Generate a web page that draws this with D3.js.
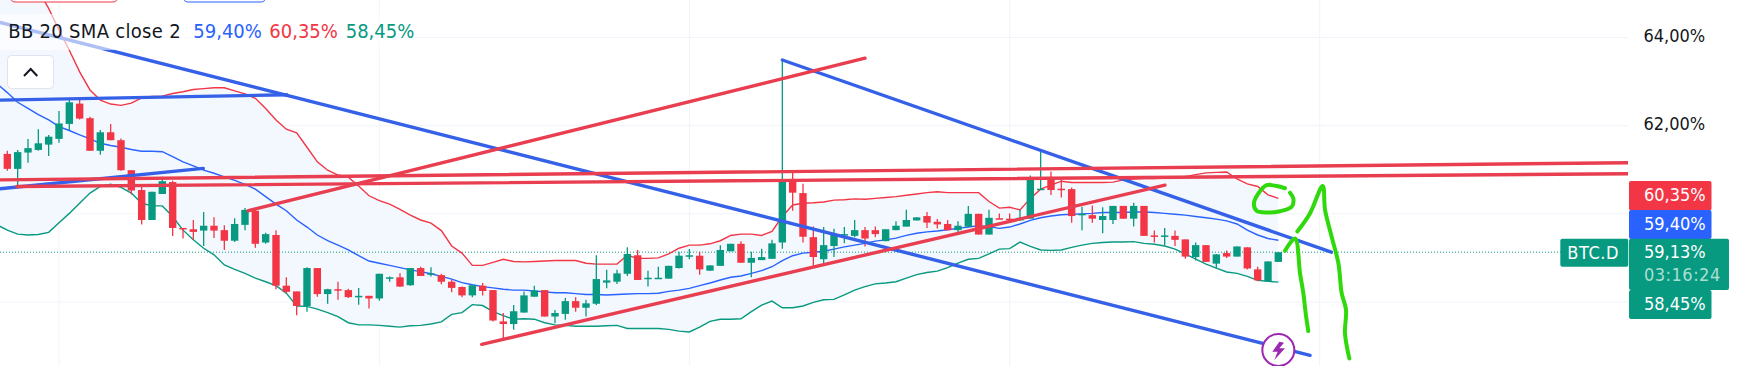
<!DOCTYPE html>
<html>
<head>
<meta charset="utf-8">
<script src="https://cdn.jsdelivr.net/npm/d3@7"></script>
<style>
  html, body { margin: 0; padding: 0; background: #fff; overflow: hidden; }
  text { font-family: "DejaVu Sans Condensed", "DejaVu Sans", sans-serif; font-stretch: condensed; }
</style>
</head>
<body>
<div id="chart-container"></div>
<script>
const candleOpen = [61.36,61.02,61.39,61.45,61.57,61.70,62.04,62.50,62.17,61.43,61.85,61.67,60.99,60.54,59.86,60.45,60.72,59.68,59.65,59.62,59.73,59.63,59.39,59.75,60.07,59.35,59.52,58.37,58.24,57.91,58.77,58.18,58.29,58.27,58.11,58.14,58.08,58.53,58.56,58.38,58.77,58.62,58.61,58.46,58.34,58.15,58.37,58.27,57.56,57.50,57.76,58.12,58.27,57.67,57.73,58.02,57.87,57.96,58.44,58.46,58.64,59.06,58.52,58.53,58.53,58.77,59.03,59.05,58.71,58.82,59.15,59.32,58.89,58.95,58.98,59.35,60.74,60.47,59.47,58.97,59.27,59.51,59.50,59.63,59.63,59.38,59.63,59.71,59.85,59.95,59.82,59.77,59.63,59.71,60.00,59.53,59.90,59.89,59.85,59.89,60.54,60.81,60.57,60.56,59.97,59.97,59.86,59.86,60.18,59.89,60.18,59.51,59.48,59.50,59.42,59.02,59.29,58.87,59.11,59.03,59.24,58.74,58.47,58.91];
const candleClose = [61.02,61.40,61.49,61.60,61.75,62.05,62.53,62.16,61.43,61.85,61.67,60.99,60.53,59.86,60.50,60.74,59.68,59.65,59.59,59.73,59.62,59.39,59.77,60.09,59.32,59.54,58.37,58.23,57.91,58.77,58.18,58.29,58.27,58.11,58.14,58.08,58.64,58.56,58.35,58.77,58.59,58.65,58.46,58.32,58.15,58.38,58.25,57.58,57.50,57.79,58.15,58.26,57.67,57.75,58.02,57.87,57.97,58.52,58.49,58.65,59.09,58.50,58.55,58.55,58.82,59.05,59.06,58.74,58.83,59.18,59.32,58.89,59.00,59.02,59.33,60.75,60.48,59.48,59.02,59.29,59.54,59.54,59.63,59.44,59.54,59.65,59.73,59.86,59.92,59.80,59.76,59.63,59.73,60.00,59.53,59.91,59.88,59.88,59.91,60.78,60.57,60.54,60.54,59.95,60.00,59.89,59.95,60.18,59.89,60.18,59.50,59.48,59.51,59.41,59.03,59.29,58.91,59.08,59.03,59.26,58.76,58.49,58.92,59.13];
const candleHigh = [61.43,61.45,61.70,61.92,61.79,62.33,62.60,62.61,62.20,61.90,62.04,61.71,60.99,60.62,60.50,60.84,60.75,59.68,59.86,60.04,59.92,59.74,59.90,60.13,60.09,59.57,59.63,58.56,58.24,58.79,58.77,58.30,58.46,58.30,58.32,58.14,58.64,58.58,58.65,58.77,58.80,58.79,58.64,58.50,58.35,58.38,58.43,58.27,57.75,57.93,58.24,58.37,58.27,57.82,58.09,58.11,58.05,59.06,58.73,58.73,59.24,59.18,58.71,58.80,58.82,59.14,59.20,59.14,58.83,59.29,59.32,59.38,59.14,59.21,59.41,63.49,60.95,60.68,59.71,59.70,59.66,59.70,59.86,59.70,59.71,59.65,59.83,60.09,59.92,60.04,59.88,59.86,59.83,60.18,60.00,60.09,60.01,60.01,60.09,60.87,61.42,60.96,60.78,60.60,60.16,60.19,60.15,60.18,60.18,60.25,60.18,59.62,59.68,59.62,59.42,59.35,59.29,59.09,59.17,59.26,59.24,58.80,58.92,59.13];
const candleLow = [60.98,60.60,61.16,61.43,61.31,61.61,61.90,62.14,61.43,61.34,61.67,60.98,60.44,59.76,59.86,60.45,59.50,59.44,59.41,59.27,59.45,59.18,59.36,59.63,59.23,59.32,58.29,58.20,57.70,57.78,58.12,57.96,58.05,58.09,57.94,57.85,58.03,58.46,58.34,58.37,58.59,58.58,58.40,58.22,58.11,58.11,58.15,57.56,57.17,57.37,57.76,58.12,57.67,57.52,57.60,57.78,57.67,57.93,58.31,58.41,58.59,58.50,58.35,58.53,58.53,58.76,58.97,58.62,58.71,58.82,59.15,58.89,58.56,58.95,58.98,59.21,60.07,59.35,58.80,58.86,59.02,59.33,59.47,59.26,59.47,59.38,59.63,59.71,59.85,59.68,59.67,59.62,59.56,59.71,59.53,59.53,59.88,59.83,59.85,59.89,60.54,60.43,60.37,59.80,59.63,59.80,59.56,59.77,59.89,59.71,59.50,59.35,59.29,59.27,58.98,58.94,58.91,58.76,59.00,59.03,58.74,58.47,58.47,58.91];

// bollinger bands start one bar before the first candle, that bar is cut by the left edge
const bbUpper = [66.90,66.43,65.98,65.53,65.07,64.66,64.17,63.71,63.22,62.81,62.58,62.49,62.46,62.51,62.63,62.66,62.67,62.73,62.77,62.82,62.84,62.86,62.86,62.79,62.72,62.62,62.39,62.13,61.92,61.84,61.51,61.18,60.99,60.88,60.83,60.63,60.41,60.30,60.22,60.10,59.97,59.86,59.79,59.62,59.27,59.11,58.83,58.83,58.90,58.97,58.92,58.91,58.92,58.93,58.94,58.94,58.94,58.88,58.86,58.86,58.86,59.06,58.99,58.99,59.00,59.09,59.22,59.29,59.29,59.32,59.39,59.51,59.54,59.54,59.51,59.60,59.94,60.20,60.24,60.25,60.27,60.31,60.32,60.34,60.33,60.35,60.37,60.39,60.42,60.45,60.48,60.50,60.48,60.48,60.48,60.48,60.28,60.13,60.15,60.09,60.35,60.56,60.65,60.74,60.71,60.71,60.71,60.71,60.72,60.77,60.79,60.80,60.80,60.81,60.82,60.84,60.89,60.93,60.94,60.95,60.79,60.68,60.62,60.43,60.35];
const bbBasis = [62.95,62.75,62.53,62.39,62.25,62.13,61.98,61.89,61.79,61.70,61.60,61.55,61.51,61.46,61.42,61.42,61.41,61.30,61.18,61.09,60.99,60.92,60.84,60.76,60.67,60.56,60.39,60.22,60.07,59.86,59.70,59.52,59.39,59.29,59.18,59.05,58.93,58.88,58.83,58.78,58.73,58.69,58.64,58.58,58.52,58.44,58.39,58.35,58.32,58.29,58.27,58.27,58.25,58.23,58.21,58.21,58.19,58.17,58.17,58.16,58.17,58.18,58.19,58.19,58.20,58.24,58.27,58.31,58.37,58.43,58.50,58.56,58.59,58.65,58.71,58.80,58.94,59.05,59.11,59.13,59.15,59.20,59.25,59.29,59.33,59.38,59.41,59.45,59.51,59.56,59.59,59.61,59.64,59.67,59.70,59.73,59.71,59.67,59.70,59.77,59.85,59.91,59.95,59.98,59.99,60.00,60.01,60.03,60.03,60.03,60.04,60.04,60.03,60.01,59.99,59.97,59.94,59.91,59.88,59.84,59.77,59.63,59.52,59.44,59.40];
const bbLower = [59.75,59.63,59.54,59.52,59.53,59.58,59.80,60.01,60.24,60.47,60.62,60.67,60.60,60.47,60.24,60.18,60.18,59.94,59.63,59.41,59.22,59.07,58.84,58.74,58.65,58.54,58.46,58.37,58.20,57.91,57.90,57.84,57.76,57.67,57.53,57.48,57.48,57.47,57.45,57.43,57.46,57.47,57.50,57.55,57.72,57.76,57.94,57.92,57.78,57.69,57.61,57.62,57.61,57.53,57.48,57.47,57.45,57.45,57.45,57.46,57.47,57.40,57.40,57.40,57.40,57.38,57.34,57.32,57.43,57.56,57.61,57.61,57.62,57.78,57.93,58.02,57.87,57.87,57.91,57.99,58.05,58.06,58.16,58.27,58.35,58.41,58.43,58.46,58.54,58.62,58.67,58.70,58.78,58.88,58.97,58.99,59.09,59.20,59.21,59.36,59.26,59.18,59.17,59.18,59.24,59.29,59.33,59.35,59.36,59.36,59.37,59.33,59.31,59.27,59.20,59.09,58.97,58.86,58.77,58.68,58.65,58.58,58.49,58.47,58.45];

// user trend lines as [bar, percent, bar, percent]
const blueLines = [[-0.71,64.34,126.07,56.79],[-0.71,62.58,27.04,62.70],[-0.71,60.57,18.97,61.03],[75.0,63.49,128.13,59.13]];
const redLines = [[23.32,60.07,83.0,63.53],[-0.71,60.77,156.85,61.16],[0.91,60.62,156.85,60.91],[45.91,57.04,112.03,60.65]];

// freehand strokes as [bar, percent]
const penCircle = [[123.65,60.58],[122.84,60.63],[121.87,60.65],[121.06,60.46],[120.64,60.24],[120.90,60.07],[121.87,60.03],[123.16,60.06],[124.29,60.16],[124.45,60.35],[124.13,60.48]];
const penArrowLeft = [[123.65,59.16],[124.61,59.44],[125.10,58.65],[125.42,58.20],[125.65,57.74],[125.90,57.34]];
const penArrowRight = [[124.84,59.60],[126.06,60.01],[127.29,60.63],[127.52,60.09],[128.16,59.48],[128.81,58.88],[129.13,58.20],[129.55,57.82],[129.45,57.29],[129.87,56.72]];

const priceTicks = [64, 62, 60, 58];
const priceTickLabels = ["64,00%", "62,00%"];
const timeGridBars = [5, 36, 66, 97, 127];

const legendName = "BB 20 SMA close 2";
const legendBasis = "59,40%";
const legendUpper = "60,35%";
const legendLower = "58,45%";
const lastPrice = 59.13;
const countdown = "03:16:24";
const symbolName = "BTC.D";

const svgWidth = 1738;
const svgHeight = 366;
const plotRight = 1628;

const colorUp = "#089981";
const colorDown = "#f23645";
const colorBlue = "#2962ff";
const lineRed = "#e83e50";
const lineBlue = "#3560e8";
const penGreen = "#2fd90c";

const svg = d3.select("#chart-container")
    .append("svg")
    .attr("width", svgWidth)
    .attr("height", svgHeight)
    .style("display", "block");

svg.append("defs").append("clipPath")
    .attr("id", "plot-clip")
    .append("rect")
    .attr("width", plotRight)
    .attr("height", svgHeight);

const scaleX = d3.scaleLinear().domain([0, 123]).range([7.33, 1278.33]);
const scaleY = d3.scaleLinear().domain([58, 64]).range([302, 37.5]);

const plot = svg.append("g").attr("clip-path", "url(#plot-clip)");

// grid
plot.selectAll(".grid-h")
    .data(priceTicks)
    .join("line")
    .attr("x1", 0)
    .attr("x2", plotRight)
    .attr("y1", d => scaleY(d))
    .attr("y2", d => scaleY(d))
    .attr("stroke", "#f0f3fa");

plot.selectAll(".grid-v")
    .data(timeGridBars)
    .join("line")
    .attr("x1", d => scaleX(d))
    .attr("x2", d => scaleX(d))
    .attr("y1", 0)
    .attr("y2", svgHeight)
    .attr("stroke", "#f0f3fa");

// bollinger band
const bandIndex = d3.range(bbUpper.length);

plot.append("path")
    .datum(bandIndex)
    .attr("fill", "#f3f8fe")
    .attr("d", d3.area()
        .x(i => scaleX(i - 1))
        .y0(i => scaleY(bbLower[i]))
        .y1(i => scaleY(bbUpper[i])));

plot.append("line")
    .attr("x1", 0)
    .attr("x2", plotRight)
    .attr("y1", scaleY(lastPrice))
    .attr("y2", scaleY(lastPrice))
    .attr("stroke", colorUp)
    .attr("stroke-dasharray", "1,2");

function bandLine(values, color) {
    plot.append("path")
        .datum(values)
        .attr("fill", "none")
        .attr("stroke", color)
        .attr("stroke-width", 1.4)
        .attr("d", d3.line()
            .x((d, i) => scaleX(i - 1))
            .y(d => scaleY(d)));
}
bandLine(bbUpper, colorDown);
bandLine(bbBasis, colorBlue);
bandLine(bbLower, colorUp);

// candles
const candles = d3.range(candleOpen.length).map(function(i) {
    return { i: i, open: candleOpen[i], close: candleClose[i], high: candleHigh[i], low: candleLow[i] };
});
const candleColor = d => d.close >= d.open ? colorUp : colorDown;

plot.selectAll(".wick")
    .data(candles)
    .join("line")
    .attr("x1", d => scaleX(d.i))
    .attr("x2", d => scaleX(d.i))
    .attr("y1", d => scaleY(d.high))
    .attr("y2", d => scaleY(d.low))
    .attr("stroke", candleColor)
    .attr("stroke-width", 1.3);

plot.selectAll(".body")
    .data(candles)
    .join("rect")
    .attr("x", d => scaleX(d.i) - 3.7)
    .attr("width", 7.4)
    .attr("y", d => scaleY(Math.max(d.open, d.close)))
    .attr("height", d => Math.max(1.5, Math.abs(scaleY(d.open) - scaleY(d.close))))
    .attr("fill", candleColor);

// trend lines
function trendLines(rows, color) {
    plot.selectAll(null)
        .data(rows)
        .join("line")
        .attr("x1", d => scaleX(d[0]))
        .attr("y1", d => scaleY(d[1]))
        .attr("x2", d => scaleX(d[2]))
        .attr("y2", d => scaleY(d[3]))
        .attr("stroke", color)
        .attr("stroke-width", 3.4)
        .attr("stroke-linecap", "round");
}
trendLines(blueLines, lineBlue);
trendLines(redLines, lineRed);

// pen strokes
const penLine = d3.line()
    .x(d => scaleX(d[0]))
    .y(d => scaleY(d[1]))
    .curve(d3.curveCatmullRom);

[penCircle, penArrowLeft, penArrowRight].forEach(function(stroke) {
    plot.append("path")
        .datum(stroke)
        .attr("fill", "none")
        .attr("stroke", penGreen)
        .attr("stroke-width", 4)
        .attr("stroke-linecap", "round")
        .attr("stroke-linejoin", "round")
        .attr("d", penLine);
});

// lightning icon on the last bar
const icon = svg.append("g")
    .attr("transform", `translate(${scaleX(123)},350)`);
icon.append("circle")
    .attr("r", 16)
    .attr("fill", "#fff")
    .attr("stroke", "#9c27b0")
    .attr("stroke-width", 2);
icon.append("path")
    .attr("d", "M1,-8.3 L-6,1.7 L-0.7,1.7 L-4,10 L6.7,-1.7 L1,-1.7 L5.7,-7.3 Z")
    .attr("fill", "#9c27b0");

// legend, sits over the plot with a see-through background
svg.append("rect")
    .attr("x", 0)
    .attr("y", 14)
    .attr("width", 415)
    .attr("height", 36)
    .attr("fill", "#fff")
    .attr("fill-opacity", 0.6);

function legendText(x, label, color, spacing) {
    svg.append("text")
        .attr("x", x)
        .attr("y", 37.7)
        .attr("font-size", "20px")
        .attr("letter-spacing", spacing)
        .attr("fill", color)
        .text(label);
}
legendText(8.3, legendName, "#131722", 0.3);
legendText(193.3, legendBasis, colorBlue, 0);
legendText(269.3, legendUpper, colorDown, 0);
legendText(345.7, legendLower, colorUp, 0);

// buttons cut by the top edge
svg.append("rect")
    .attr("x", 10).attr("y", -12).attr("width", 108).attr("height", 14).attr("rx", 5)
    .attr("fill", "#fff").attr("stroke", colorDown);
svg.append("rect")
    .attr("x", 183).attr("y", -12).attr("width", 83).attr("height", 14).attr("rx", 5)
    .attr("fill", "#fff").attr("stroke", colorBlue);

svg.append("rect")
    .attr("x", 7.5).attr("y", 55.5).attr("width", 46).attr("height", 33).attr("rx", 4)
    .attr("fill", "#fff").attr("stroke", "#e0e3eb");
svg.append("path")
    .attr("d", "M24,76 L30.7,69 L37.3,76")
    .attr("fill", "none")
    .attr("stroke", "#131722")
    .attr("stroke-width", 2);

// price axis
svg.selectAll(".price-tick")
    .data(priceTickLabels)
    .join("text")
    .attr("x", 1643.5)
    .attr("y", (d, i) => scaleY(priceTicks[i]) + 4.5)
    .attr("font-size", "18px")
    .attr("fill", "#131722")
    .text(d => d);

function badge(x, y, w, h, color, radius) {
    svg.append("rect")
        .attr("x", x).attr("y", y).attr("width", w).attr("height", h)
        .attr("rx", radius).attr("fill", color);
}
function badgeText(x, y, label, color, spacing) {
    svg.append("text")
        .attr("x", x).attr("y", y)
        .attr("font-size", "18px")
        .attr("letter-spacing", spacing || 0)
        .attr("fill", color)
        .text(label);
}

badge(1629, 181, 82.5, 29.5, colorDown, 2);
badge(1629, 210, 82.5, 29, colorBlue, 2);
badge(1629, 290, 82.5, 29, colorUp, 2);
badge(1629, 238.7, 100, 51.3, colorUp, 2);
badge(1560.3, 238.7, 68, 28, colorUp, 2);

badgeText(1644, 201, legendUpper, "#fff");
badgeText(1644, 230, legendBasis, "#fff");
badgeText(1644, 258, "59,13%", "#fff");
badgeText(1644, 280.7, countdown, "#a8e0d2", 0.5);
badgeText(1644, 310, legendLower, "#fff");
badgeText(1567.3, 259.3, symbolName, "#fff", 0.6);
</script>
</body>
</html>
